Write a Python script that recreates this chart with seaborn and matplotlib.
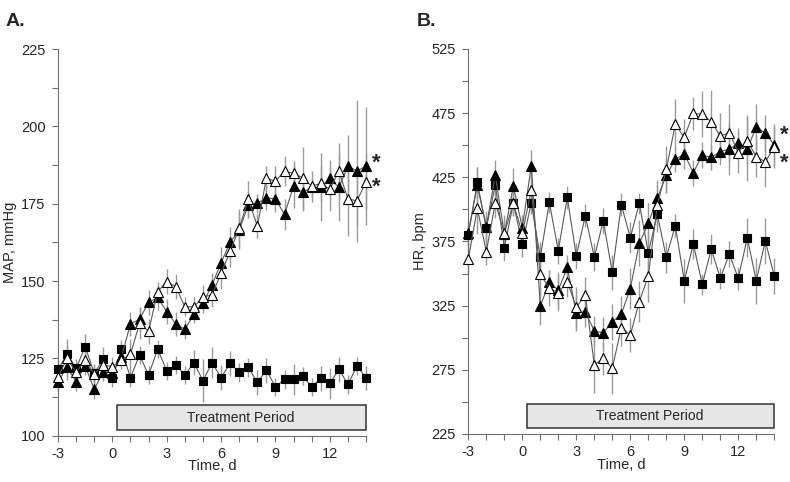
import numpy as np
import pandas as pd
import matplotlib
matplotlib.use("Agg")
import matplotlib.pyplot as plt
import seaborn as sns
from matplotlib.patches import Rectangle
from matplotlib.ticker import MultipleLocator

# time points, every half day
time = [-3 + 0.5 * i for i in range(35)]

# Panel A: mean arterial pressure (mmHg)
map_square = [121.5, 126.3, 121.8, 128.8, 120.2, 124.7, 118.6, 127.9, 118.8, 126.1,
              119.6, 128.0, 121.0, 122.9, 119.6, 123.6, 117.8, 123.6, 118.8, 123.4,
              120.5, 122.1, 117.3, 121.2, 115.8, 118.2, 118.2, 119.3, 115.8, 118.6,
              116.9, 121.5, 116.6, 122.6, 118.7]
map_square_err = [3, 5, 3, 4, 3, 4, 3, 3, 3, 3, 3, 3, 3, 3, 3, 4, 7, 5, 4, 4,
                  3, 3, 4, 4, 3, 3, 5, 3, 3, 4, 5, 4, 3, 3, 4]
map_filled = [117.5, 122.1, 117.5, 122.6, 115.0, 120.7, 120.4, 125.5, 136.1, 137.7,
              143.1, 144.7, 140.1, 136.1, 134.4, 139.3, 142.8, 148.7, 156.0, 162.5,
              166.5, 174.7, 175.1, 177.0, 176.5, 171.6, 180.7, 178.7, 180.3, 180.3,
              183.2, 180.3, 187.2, 185.6, 187.2]
map_filled_err = [3, 4, 3, 3, 3, 3, 3, 3, 4, 4, 4, 4, 4, 4, 3, 3, 3, 4, 5, 5,
                  6, 4, 3, 4, 4, 5, 7, 6, 3, 11, 6, 11, 10, 23, 19]
map_open = [119.0, 125.0, 120.5, 124.5, 120.0, 122.9, 122.3, 124.5, 126.4, 136.3,
            133.8, 146.6, 149.8, 148.2, 141.7, 141.7, 144.9, 145.5, 152.5, 159.6,
            167.2, 176.4, 167.8, 183.2, 182.3, 185.6, 184.8, 183.4, 180.7, 181.6,
            179.7, 185.6, 176.5, 176.0, 182.1]
map_open_err = [3, 4, 3, 3, 3, 3, 3, 3, 5, 5, 4, 3, 4, 4, 3, 3, 4, 4, 5, 5,
                6, 6, 4, 4, 5, 5, 4, 10, 5, 6, 7, 9, 12, 8, 9]

# Panel B: heart rate (bpm)
hr_square = [380.0, 421.0, 385.2, 418.9, 370.1, 404.7, 373.0, 405.0, 362.6, 405.5,
             367.8, 409.4, 363.6, 395.0, 362.6, 391.1, 350.8, 403.6, 377.9, 404.7,
             366.2, 396.1, 362.6, 387.2, 344.2, 373.0, 341.6, 369.1, 346.3, 365.2,
             346.3, 377.9, 344.2, 375.5, 348.1]
hr_square_err = [8, 12, 9, 10, 10, 9, 10, 9, 12, 8, 10, 9, 10, 9, 11, 10, 14, 9, 12, 8,
                 16, 14, 12, 9, 17, 12, 8, 12, 8, 10, 9, 15, 18, 18, 14]
hr_filled = [381.8, 418.9, 386.5, 426.7, 380.5, 418.1, 385.7, 434.0, 324.7, 343.1,
             337.1, 354.8, 319.0, 320.3, 305.2, 303.9, 312.3, 318.3, 338.2, 373.5,
             389.1, 408.5, 426.7, 438.9, 443.1, 428.5, 442.3, 440.5, 444.9, 447.0,
             451.4, 447.0, 464.3, 459.2, 450.1]
hr_filled_err = [10, 14, 12, 12, 12, 14, 10, 12, 15, 10, 14, 10, 14, 12, 12, 12, 14, 14, 16, 18,
                 16, 14, 14, 10, 12, 10, 10, 10, 10, 20, 12, 25, 18, 14, 16]
hr_open = [361.1, 400.8, 367.0, 405.1, 381.3, 404.7, 381.3, 415.0, 349.6, 338.5,
           335.0, 343.6, 323.7, 333.3, 278.7, 283.9, 276.2, 307.7, 302.1, 328.0,
           348.1, 403.3, 431.1, 466.1, 456.1, 474.8, 474.0, 468.2, 457.1, 459.7,
           444.1, 453.4, 441.0, 437.1, 448.3]
hr_open_err = [12, 20, 10, 12, 14, 10, 12, 12, 16, 14, 14, 12, 16, 14, 22, 13, 20, 14, 13, 16,
               20, 16, 18, 20, 14, 13, 18, 25, 18, 22, 16, 20, 16, 20, 16]

x_ticks = [-3, 0, 3, 6, 9, 12]
panel_labels = ["A.", "B."]
y_labels = ["MAP, mmHg", "HR, bpm"]
y_ticks = [[100, 125, 150, 175, 200, 225], [225, 275, 325, 375, 425, 475, 525]]
y_minor = [12.5, 25]

sns.set_theme(style="ticks")
plt.rcParams["font.family"] = ["Liberation Sans", "DejaVu Sans"]
plt.rcParams["axes.unicode_minus"] = False

fig = plt.figure(figsize=(7.9, 4.82), dpi=100)
ax_a = fig.add_axes([0.0734, 0.096, 0.39, 0.802])
ax_b = fig.add_axes([0.5928, 0.0996, 0.3873, 0.799])

panels = [
    (ax_a, [(map_square, map_square_err), (map_filled, map_filled_err), (map_open, map_open_err)]),
    (ax_b, [(hr_square, hr_square_err), (hr_filled, hr_filled_err), (hr_open, hr_open_err)]),
]
styles = [
    dict(marker="s", markersize=5.3, markerfacecolor="black", markeredgecolor="black"),
    dict(marker="^", markersize=6.8, markerfacecolor="black", markeredgecolor="black"),
    dict(marker="^", markersize=6.8, markerfacecolor="white", markeredgecolor="black"),
]

for i, (ax, series) in enumerate(panels):
    # error bars first, behind the lines
    for vals, err in series:
        ax.errorbar(time, vals, yerr=err, fmt="none", ecolor="#9a9a9a",
                    elinewidth=1, capsize=0, zorder=1)
    for (vals, err), st in zip(series, styles):
        df = pd.DataFrame({"time": time, "value": vals})
        sns.lineplot(data=df, x="time", y="value", ax=ax, color="#5a5a5a",
                     linewidth=0.8, markeredgewidth=0.8, zorder=3, **st)
    for ln in ax.lines:
        ln.set_clip_on(False)
    for coll in ax.collections:
        coll.set_clip_on(False)

    ax.set_xlim(-3, 14)
    ax.set_ylim(y_ticks[i][0], y_ticks[i][-1])
    ax.set_xticks(x_ticks)
    ax.set_yticks(y_ticks[i])
    ax.xaxis.set_minor_locator(MultipleLocator(1))
    ax.yaxis.set_minor_locator(MultipleLocator(y_minor[i]))
    ax.tick_params(which="both", direction="out", length=4, width=0.8,
                   color="#707070", labelsize=10.5)
    ax.tick_params(axis="x", pad=4)
    ax.tick_params(axis="y", pad=5)
    sns.despine(ax=ax)
    for sp in ["left", "bottom"]:
        ax.spines[sp].set_color("#707070")
        ax.spines[sp].set_linewidth(0.8)
    ax.set_xlabel("Time, d", fontsize=10.5, labelpad=-1)
    ax.set_ylabel(y_labels[i], fontsize=10.5, labelpad=3)

    # treatment period box
    box = Rectangle((0.25, 0.015), 13.75, 0.064, transform=ax.get_xaxis_transform(),
                    facecolor="#e6e6e6", edgecolor="#333333", linewidth=1.1,
                    zorder=0.5, clip_on=False)
    ax.add_patch(box)
    ax.text(7.1, 0.047, "Treatment Period", transform=ax.get_xaxis_transform(),
            ha="center", va="center", fontsize=10, zorder=2)

    ax.text(-0.17, 1.05, panel_labels[i], transform=ax.transAxes,
            fontsize=14, fontweight="bold", ha="left", va="bottom")

# significance markers
ax_a.text(14.3, map_filled[-1] + 1.0, "*", fontsize=16, fontweight="bold", va="center")
ax_a.text(14.3, map_open[-1] - 1.7, "*", fontsize=16, fontweight="bold", va="center")
ax_b.text(14.3, hr_filled[-1] + 8, "*", fontsize=16, fontweight="bold", va="center")
ax_b.text(14.3, hr_open[-1] - 12, "*", fontsize=16, fontweight="bold", va="center")
for ax in [ax_a, ax_b]:
    for t in ax.texts:
        t.set_clip_on(False)

fig.savefig("out.png", dpi=100)
